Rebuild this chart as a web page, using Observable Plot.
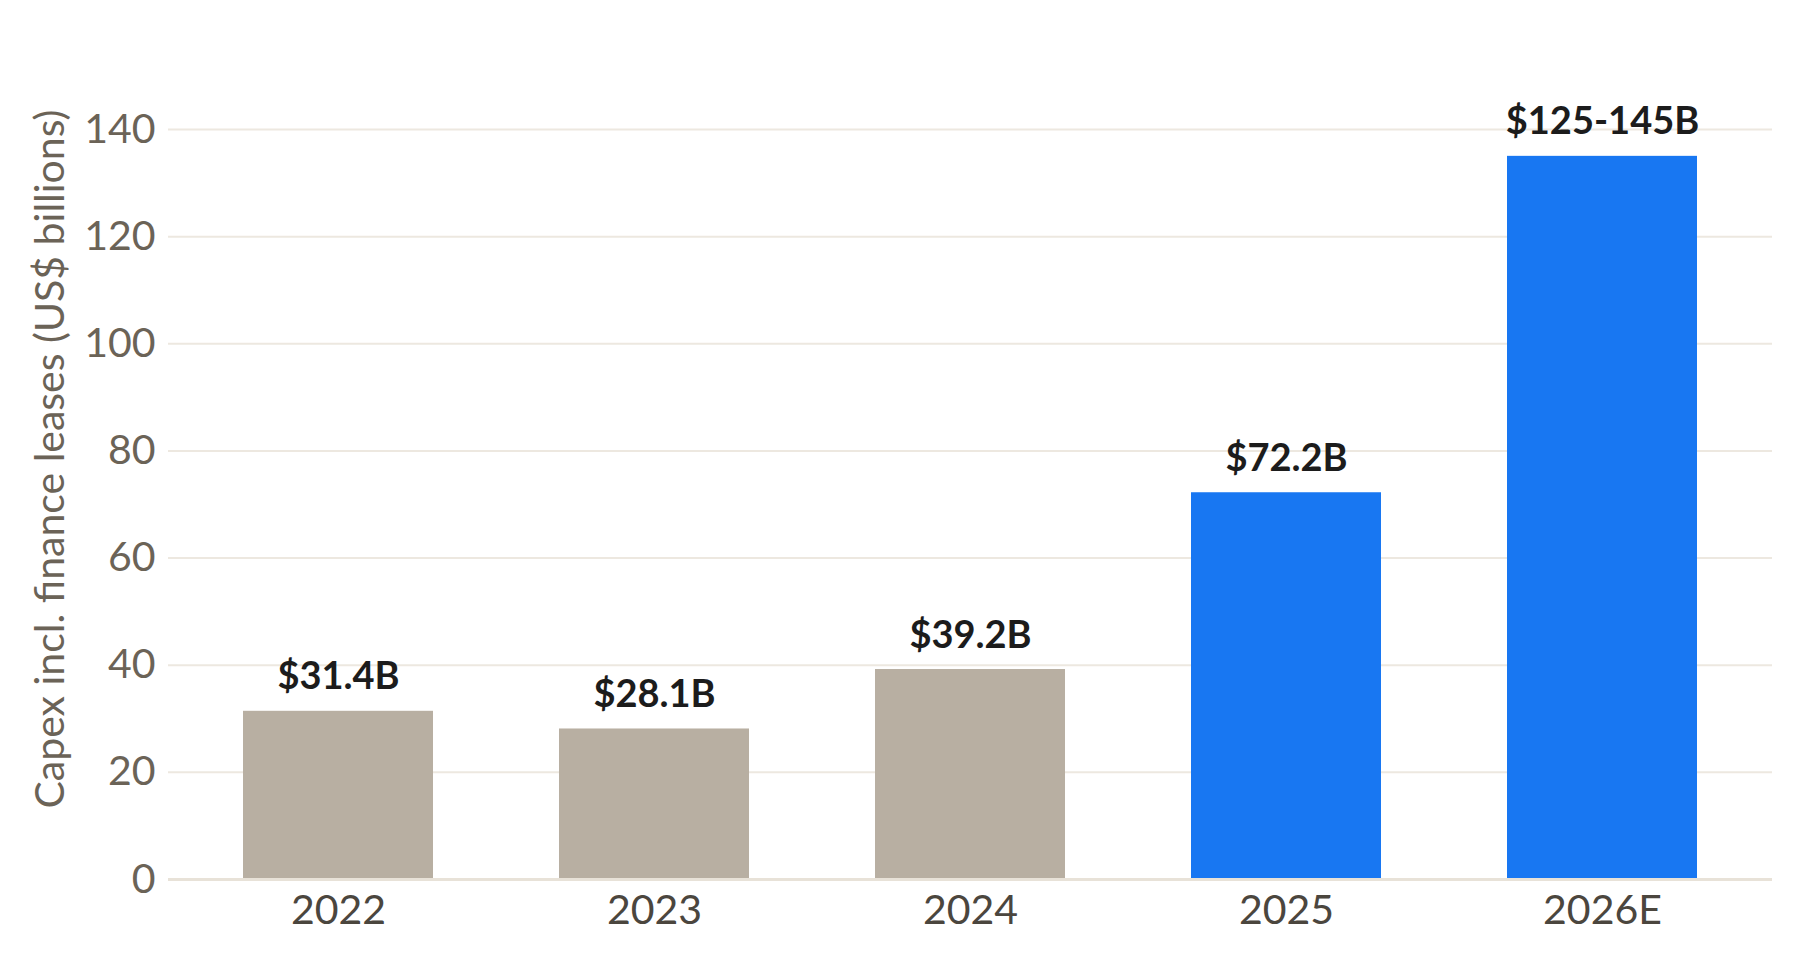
<!DOCTYPE html>
<html>
<head>
<meta charset="utf-8">
<script src="https://cdn.jsdelivr.net/npm/d3@7"></script>
<script src="https://cdn.jsdelivr.net/npm/@observablehq/plot@0.6"></script>
<style>
  html, body { margin: 0; padding: 0; background: #ffffff; }
  #chart svg { display: block; }
</style>
</head>
<body>
<div id="chart"></div>
<script>
// Capital expenditures including finance leases, by year (US$ billions)
const years = ["2022", "2023", "2024", "2025", "2026E"];
const capexLow = [31.4, 28.1, 39.2, 72.2, 125];
const capexHigh = [31.4, 28.1, 39.2, 72.2, 145];
const highlightYears = ["2025", "2026E"];
const yTicks = [0, 20, 40, 60, 80, 100, 120, 140];

const fmt = (v) => String(v);
const rows = years.map((year, i) => ({
  year,
  low: capexLow[i],
  high: capexHigh[i],
  value: (capexLow[i] + capexHigh[i]) / 2, // guidance ranges drawn at their midpoint
  label: capexLow[i] === capexHigh[i]
    ? `$${fmt(capexLow[i])}B`
    : `$${fmt(capexLow[i])}-${fmt(capexHigh[i])}B`
}));

const chart = Plot.plot({
  width: 1803,
  height: 960,
  marginTop: 38,
  marginBottom: 81,
  marginLeft: 168,
  marginRight: 31,
  style: { fontFamily: "Lato, sans-serif", background: "#ffffff" },
  x: { domain: years, paddingInner: 0.4, paddingOuter: 0.23, label: null },
  y: { domain: [0, 157], label: "Capex incl. finance leases (US$ billions)" },
  marks: [
    Plot.gridY(yTicks, { stroke: "#ede8e0", strokeOpacity: 1, strokeWidth: 2 }),
    Plot.axisY(yTicks, {
      tickSize: 0,
      tickPadding: 13,
      fontSize: 41,
      fill: "#6b6357",
      label: "Capex incl. finance leases (US$ billions)",
      labelAnchor: "center",
      labelArrow: "none",
      labelOffset: 134
    }),
    Plot.axisX({
      tickSize: 0,
      tickPadding: 15,
      fontSize: 41,
      fill: "#4b463e",
      label: null
    }),
    Plot.barY(rows, {
      x: "year",
      y: "value",
      fill: (d) => highlightYears.includes(d.year) ? "#1877f2" : "#b8afa2"
    }),
    Plot.ruleY([0], { stroke: "#e8e2d8", strokeWidth: 3 }),
    Plot.text(rows, {
      x: "year",
      y: "value",
      text: "label",
      lineAnchor: "bottom",
      dy: -22,
      fontSize: 38,
      fontWeight: "bold",
      fill: "#1c1c1c"
    })
  ]
});

document.getElementById("chart").append(chart);
</script>
</body>
</html>
